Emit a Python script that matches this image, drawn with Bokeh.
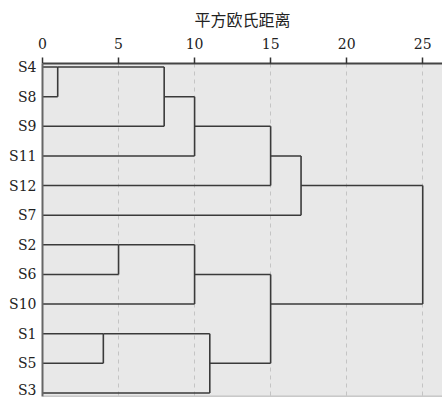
from bokeh.plotting import figure
from bokeh.models import Range1d, LinearAxis, FixedTicker, Span
from bokeh.embed import file_html
from bokeh.resources import INLINE

# Leaf order, top to bottom
leaves = ["S4", "S8", "S9", "S11", "S12", "S7", "S2", "S6", "S10", "S1", "S5", "S3"]

# Agglomeration steps: members joined (leaf name or earlier step index) and distance
merge_a = ["S4", 0, 1, 2, 3, "S2", 5, "S1", 7, 6, 4]
merge_b = ["S8", "S9", "S11", "S12", "S7", "S6", "S10", "S5", "S3", 8, 9]
merge_dist = [1, 8, 10, 15, 17, 5, 10, 4, 11, 15, 25]

x_ticks = [0, 5, 10, 15, 20, 25]
x_title = "平方欧氏距离"

LATIN = "DejaVu Serif"
CJK = "Noto Sans CJK SC"

row = {name: i for i, name in enumerate(leaves)}
height = {name: 0 for name in leaves}


def node_key(ref):
    return ("m", ref) if isinstance(ref, int) else ref


xs, ys = [], []
for i, (a, b, d) in enumerate(zip(merge_a, merge_b, merge_dist)):
    ka, kb = node_key(a), node_key(b)
    ra, rb = row[ka], row[kb]
    # horizontal arms from each member's own height out to the join distance
    xs.append([height[ka], d]); ys.append([ra, ra])
    xs.append([height[kb], d]); ys.append([rb, rb])
    # vertical joining bar
    xs.append([d, d]); ys.append([ra, rb])
    key = ("m", i)
    row[key] = (ra + rb) // 2
    height[key] = d

n = len(leaves)
p = figure(
    width=442, height=397,
    x_range=Range1d(0, 26.3),
    y_range=Range1d(n - 1 + 0.12, -0.12),
    output_backend="svg", toolbar_location=None,
    x_axis_location=None, y_axis_location=None,
    min_border_left=42, min_border_right=0,
    min_border_top=63, min_border_bottom=1,
)
p.background_fill_color = "#e8e8e8"
p.border_fill_color = "white"
p.outline_line_color = None

p.multi_line(xs, ys, line_color="#3a3a3a", line_width=1.6)

# distance axis on top
top = LinearAxis(ticker=FixedTicker(ticks=x_ticks, minor_ticks=[]))
top.axis_label = x_title
top.axis_label_text_font = CJK
top.axis_label_text_font_size = "16px"
top.axis_label_text_font_style = "normal"
top.axis_label_text_color = "#222222"
top.axis_label_standoff = 4
top.major_label_text_font = LATIN
top.major_label_text_font_size = "14px"
top.major_label_text_color = "#222222"
top.major_label_standoff = 9
top.major_tick_out = 6
top.major_tick_in = 0
top.major_tick_line_color = "#333333"
top.major_tick_line_width = 1.5
top.axis_line_color = "#444444"
top.axis_line_width = 2
p.add_layout(top, "above")

# sample labels on the left
left = LinearAxis(ticker=FixedTicker(ticks=list(range(n)), minor_ticks=[]))
left.major_label_overrides = {i: name for i, name in enumerate(leaves)}
left.major_label_text_font = LATIN
left.major_label_text_font_size = "14px"
left.major_label_text_color = "#222222"
left.major_label_standoff = 6
left.major_tick_out = 0
left.major_tick_in = 0
left.axis_line_color = "#666666"
left.axis_line_width = 2
p.add_layout(left, "left")

p.xgrid.ticker = FixedTicker(ticks=x_ticks)
p.xgrid.grid_line_color = "#c4c4c4"
p.xgrid.grid_line_dash = "4 4"
p.xgrid.grid_line_width = 1
p.ygrid.grid_line_color = None

p.add_layout(Span(location=n - 1 + 0.12, dimension="width",
                  line_color="#a0a0a0", line_width=1.5))

open("out.html", "w").write(file_html(p, INLINE))
